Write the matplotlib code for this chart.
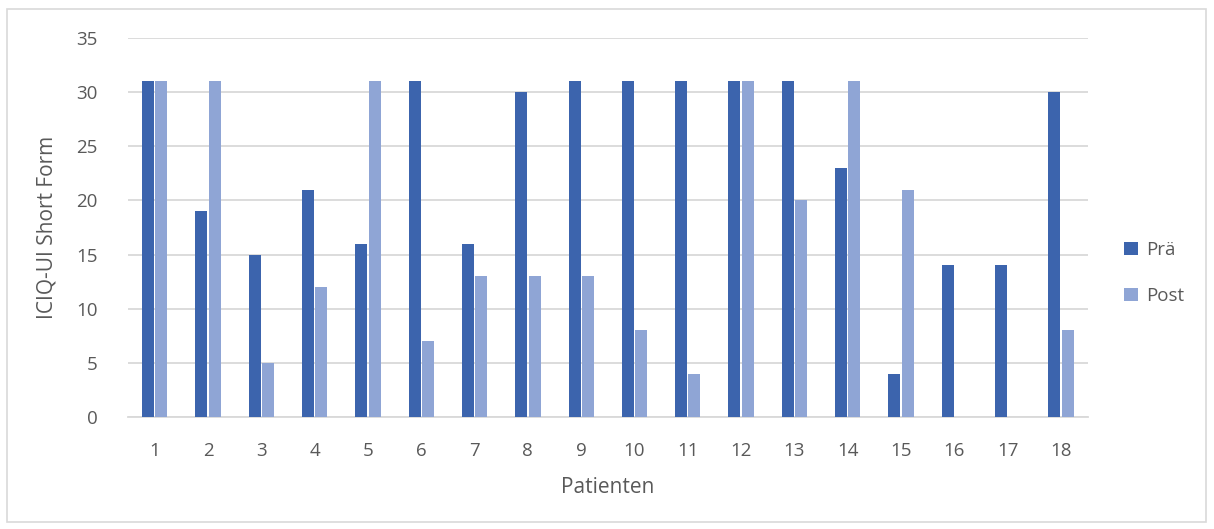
import matplotlib.pyplot as plt
import numpy as np
from matplotlib.patches import Rectangle

# data
patients = [str(i) for i in range(1, 19)]
prae = [31, 19, 15, 21, 16, 31, 16, 30, 31, 31, 31, 31, 31, 23, 4, 14, 14, 30]
post = [31, 31, 5, 12, 31, 7, 13, 13, 13, 8, 4, 31, 20, 31, 21, 0, 0, 8]
y_ticks = [0, 5, 10, 15, 20, 25, 30, 35]

DARK = "#3c64ad"
LIGHT = "#8fa5d5"
TEXT = "#595959"
GRID = "#d9d9d9"

plt.rcParams["font.family"] = ["Open Sans", "DejaVu Sans"]

fig = plt.figure(figsize=(12.14, 5.29), dpi=100)
ax = fig.add_axes([0.1054, 0.2117, 0.7906, 0.7165])

x = np.arange(len(patients))
w = 0.225
ax.bar(x - 0.125, prae, width=w, color=DARK, label="Prä", zorder=3)
ax.bar(x + 0.125, post, width=w, color=LIGHT, label="Post", zorder=3)

ax.set_xlim(-0.5, len(patients) - 0.5)
ax.set_ylim(0, 35)
ax.set_yticks(y_ticks)
ax.set_xticks(x)
ax.set_xticklabels(patients)
ax.yaxis.grid(True, color=GRID, linewidth=1.3, zorder=0)
ax.tick_params(length=0, labelsize=13.5, colors=TEXT)
ax.tick_params(axis="x", pad=18)
ax.tick_params(axis="y", pad=22)
for side in ["top", "right", "left"]:
    ax.spines[side].set_visible(False)
ax.spines["bottom"].set_color(GRID)
ax.spines["bottom"].set_linewidth(1.3)

ax.set_xlabel("Patienten", fontsize=15, color=TEXT, labelpad=12)
ax.set_ylabel("ICIQ-UI Short Form", fontsize=15, color=TEXT, labelpad=13)

ax.legend(loc="center left", bbox_to_anchor=(1.02, 0.38), frameon=False,
          fontsize=13.5, labelcolor=TEXT, handlelength=0.75, handleheight=0.75,
          labelspacing=1.5, handletextpad=0.45)

# outer chart border
fig.patches.append(Rectangle((7 / 1214, 7 / 529), 1199 / 1214, 513 / 529,
                             transform=fig.transFigure, fill=False,
                             edgecolor=GRID, linewidth=1.2))

fig.savefig("out.png", dpi=100)
